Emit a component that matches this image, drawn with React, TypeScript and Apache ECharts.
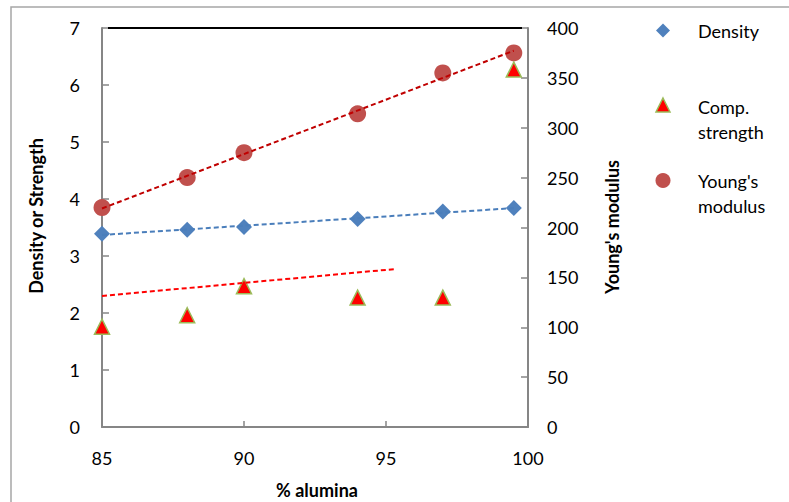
import React, { useEffect, useRef } from "react";
import * as echarts from "echarts";

// ---- data ----
const alumina = [85, 88, 90, 94, 97, 99.5];
const density = [3.39, 3.46, 3.51, 3.65, 3.78, 3.84];
const compStrength = [1.76, 1.96, 2.47, 2.27, 2.27, 6.27];
const youngsModulus = [220, 250, 275, 314, 355, 375];
// the strength trendline as drawn (it does not span all points)
const compTrendX = [85, 95.3];
const compTrendY = [2.3, 2.77];

const seriesNames = ["Density", "Comp.\nstrength", "Young's\nmodulus"];
const xTitle = "% alumina";
const leftTitle = "Density or Strength";
const rightTitle = "Young's modulus";

const FONT = "Lato";

function linearFit(xs: number[], ys: number[]) {
  const n = xs.length;
  const mx = xs.reduce((a, b) => a + b, 0) / n;
  const my = ys.reduce((a, b) => a + b, 0) / n;
  let sxx = 0, sxy = 0;
  for (let i = 0; i < n; i++) {
    sxx += (xs[i] - mx) ** 2;
    sxy += (xs[i] - mx) * (ys[i] - my);
  }
  const slope = sxy / sxx;
  const icpt = my - slope * mx;
  const x0 = xs[0], x1 = xs[n - 1];
  return [[x0, icpt + slope * x0], [x1, icpt + slope * x1]];
}

export default function App() {
  const ref = useRef<HTMLDivElement>(null);
  useEffect(() => {
    if (!ref.current) return;
    const chart = echarts.init(ref.current, undefined, { renderer: "svg" });
    const pts = (ys: number[]) => alumina.map((x, i) => [x, ys[i]]);
    const tick = { color: "#000", fontSize: 18, fontFamily: FONT };
    const axisGray = "#868686";
    const option: any = {
      animation: false,
      backgroundColor: "#fff",
      grid: { left: 102, right: 261, top: 28, bottom: 75, containLabel: false },
      xAxis: {
        type: "value", min: 85, max: 100, interval: 5,
        axisLine: { show: true, onZero: false, lineStyle: { color: axisGray, width: 2 } },
        axisTick: { show: true, inside: true, length: 6, lineStyle: { color: axisGray, width: 1.5 } },
        axisLabel: { ...tick, margin: 22 },
        splitLine: { show: false },
      },
      yAxis: [
        {
          type: "value", min: 0, max: 7, interval: 1, position: "left",
          axisLine: { show: true, lineStyle: { color: axisGray, width: 2 } },
          axisTick: { show: true, inside: true, length: 7, lineStyle: { color: axisGray, width: 1.5 } },
          axisLabel: { ...tick, margin: 22 },
          splitLine: { show: false },
        },
        {
          type: "value", min: 0, max: 400, interval: 50, position: "right",
          axisLine: { show: true, lineStyle: { color: axisGray, width: 2 } },
          axisTick: { show: true, inside: true, length: 7, lineStyle: { color: axisGray, width: 1.5 } },
          axisLabel: { ...tick, margin: 19 },
          splitLine: { show: false },
        },
      ],
      series: [
        {
          name: seriesNames[0], type: "scatter", yAxisIndex: 0, symbol: "diamond", symbolSize: 16,
          itemStyle: { color: "#4f81bd", opacity: 1 }, data: pts(density), z: 3,
        },
        {
          name: seriesNames[2], type: "scatter", yAxisIndex: 1, symbol: "circle", symbolSize: 17,
          itemStyle: { color: "#c0504d", opacity: 1 }, data: pts(youngsModulus), z: 3,
        },
        {
          name: seriesNames[1], type: "scatter", yAxisIndex: 0, symbol: "triangle", symbolSize: 15,
          itemStyle: { color: "#ff0000", borderColor: "#9bbb59", borderWidth: 1.5, opacity: 1 }, data: pts(compStrength), z: 4,
        },
        {
          name: "Density trend", type: "line", yAxisIndex: 0, showSymbol: false, symbol: "none",
          lineStyle: { color: "#4a7ebb", width: 2, type: [5, 3] }, data: linearFit(alumina, density), z: 5,
        },
        {
          name: "Young trend", type: "line", yAxisIndex: 1, showSymbol: false, symbol: "none",
          lineStyle: { color: "#c00000", width: 2, type: [5, 3] }, data: linearFit(alumina, youngsModulus), z: 5,
        },
        {
          name: "Strength trend", type: "line", yAxisIndex: 0, showSymbol: false, symbol: "none",
          lineStyle: { color: "#ff0000", width: 2, type: [5, 3] },
          data: compTrendX.map((x, i) => [x, compTrendY[i]]), z: 5,
        },
      ],
      graphic: [
        { type: "rect", silent: true, z: -1, shape: { x: 11, y: 7, width: 900, height: 600 },
          style: { fill: "none", stroke: "#a6a6a6", lineWidth: 1.5 } },
        { type: "line", silent: true, z: 10, shape: { x1: 108, y1: 28, x2: 522, y2: 28 },
          style: { stroke: "#000", lineWidth: 2 } },
        { type: "text", x: 36, y: 216, rotation: Math.PI / 2, silent: true,
          style: { text: leftTitle, fontSize: 18, fontWeight: "bold", fontFamily: FONT, fill: "#000", align: "center", verticalAlign: "middle" } },
        { type: "text", x: 612, y: 227, rotation: Math.PI / 2, silent: true,
          style: { text: rightTitle, fontSize: 18, fontWeight: "bold", fontFamily: FONT, fill: "#000", align: "center", verticalAlign: "middle" } },
        { type: "text", x: 317, y: 490, silent: true,
          style: { text: xTitle, fontSize: 18, fontWeight: "bold", fontFamily: FONT, fill: "#000", align: "center", verticalAlign: "middle" } },
        // legend
        { type: "polygon", silent: true, shape: { points: [[663, 23.5], [670, 30.5], [663, 37.5], [656, 30.5]] },
          style: { fill: "#4f81bd" } },
        { type: "polygon", silent: true, shape: { points: [[663, 98], [670, 112], [656, 112]] },
          style: { fill: "#ff0000", stroke: "#9bbb59", lineWidth: 1.5 } },
        { type: "circle", silent: true, shape: { cx: 663, cy: 180.5, r: 7.5 }, style: { fill: "#c0504d" } },
        { type: "text", x: 698, y: 30.5, silent: true,
          style: { text: seriesNames[0], fontSize: 18, fontFamily: FONT, fill: "#000", verticalAlign: "middle" } },
        { type: "text", x: 698, y: 94, silent: true,
          style: { text: seriesNames[1], fontSize: 18, lineHeight: 25, fontFamily: FONT, fill: "#000", verticalAlign: "top" } },
        { type: "text", x: 698, y: 168, silent: true,
          style: { text: seriesNames[2], fontSize: 18, lineHeight: 25, fontFamily: FONT, fill: "#000", verticalAlign: "top" } },
      ],
    };
    chart.setOption(option);
    return () => chart.dispose();
  }, []);
  return (
    <div
      ref={ref}
      style={{ position: "fixed", left: 0, top: 0, width: 789, height: 502, background: "#fff" }}
    />
  );
}
